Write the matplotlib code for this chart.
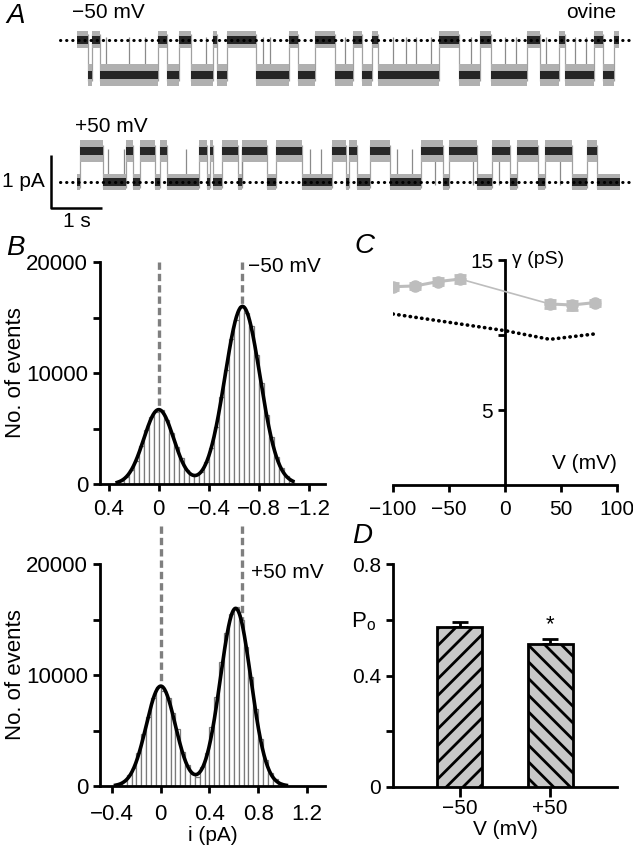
import matplotlib
matplotlib.use("Agg")
import matplotlib.pyplot as plt
import numpy as np

plt.rcParams['font.family'] = ['Liberation Sans', 'DejaVu Sans']
plt.rcParams['font.size'] = 15
plt.rcParams['axes.linewidth'] = 2.0
plt.rcParams['hatch.linewidth'] = 2.0
plt.rcParams['xtick.major.width'] = 2.0
plt.rcParams['ytick.major.width'] = 2.0
plt.rcParams['xtick.major.size'] = 5
plt.rcParams['ytick.major.size'] = 5

MINUS = '\u2212'

# ---- A: single channel records, dwell boundaries (s); state alternates closed/open
top_edges = [0, 0.22, 0.31, 0.47, 1.59, 1.78, 2.0, 2.25, 2.67, 2.76, 2.96, 3.51, 4.16,
             4.35, 4.67, 5.06, 5.43, 5.59, 5.80, 5.92, 7.10, 7.49, 7.92, 8.12, 8.84,
             9.08, 9.45, 9.57, 10.14, 10.33, 10.53, 10.63]
top_spikes = [0.57, 1.02, 1.35, 2.53, 3.65, 3.80, 5.27, 6.20, 6.45, 6.65, 6.94, 7.73,
              8.41, 8.61, 9.20, 9.78, 9.98]
top_open_amp = -0.66   # pA at -50 mV
bot_edges = [0, 0.06, 0.51, 0.98, 1.10, 1.24, 1.53, 1.63, 1.78, 2.41, 2.55, 2.61, 2.67,
             2.86, 3.16, 3.25, 3.73, 3.92, 4.43, 5.00, 5.29, 5.35, 5.49, 5.75, 6.14,
             6.76, 7.18, 7.31, 7.86, 8.14, 8.49, 8.63, 9.04, 9.18, 9.71, 10.0, 10.2, 10.65]
bot_spikes = [0.61, 0.94, 2.14, 3.24, 4.57, 4.80, 6.29, 6.57, 7.02, 7.78, 8.29, 9.47]
bot_open_amp = 0.58    # pA at +50 mV
top_offset = 2.68      # vertical offset of the -50 mV record

# ---- B: amplitude histograms (bin width 0.04 pA)
bin_w = 0.04
top_first_bin = 0.30
top_counts = [300, 600, 1300, 2100, 3400, 4900, 6000, 6500, 6700, 5800, 4600, 3300,
              2300, 1300, 900, 800, 1100, 2000, 3200, 5100, 7800, 10300, 13100, 14800,
              16000, 15400, 14200, 11600, 9100, 6200, 4200, 2400, 1400, 700, 300]
top_fit_amp = [6700, 16000]
top_fit_mu = [0.0, -0.67]
top_fit_sd = [0.12, 0.14]
top_levels = [0.0, -0.665]

bot_first_bin = -0.34
bot_counts = [200, 450, 950, 1600, 3000, 4700, 6200, 7900, 8900, 8600, 7900, 6600,
              5100, 3100, 1900, 1100, 800, 1700, 3000, 5300, 8000, 11200, 13800, 15500,
              16100, 15000, 12500, 9800, 6900, 4200, 2300, 1200, 600, 250, 100]
bot_fit_amp = [9000, 16000]
bot_fit_mu = [0.0, 0.615]
bot_fit_sd = [0.12, 0.125]
bot_levels = [0.0, 0.665]

# ---- C: conductance vs voltage
c_v = [-100, -80, -60, -40, 40, 60, 80]
c_g = [13.22, 13.27, 13.56, 13.73, 12.07, 12.0, 12.16]
c_err = [0.25, 0.2, 0.25, 0.25, 0.25, 0.3, 0.2]
c_ref_v = [-100, 0, 40, 80]
c_ref_g = [11.4, 10.29, 9.71, 10.07]

# ---- D: open probability
d_labels = [MINUS + '50', '+50']
d_po = [0.575, 0.514]
d_err = [0.018, 0.018]
d_hatch = ['//', '\\\\']

W, H = 633, 850
fig = plt.figure(figsize=(W / 100, H / 100), dpi=100)


def box(left, top, right, bottom):
    return [left / W, 1 - bottom / H, (right - left) / W, (bottom - top) / H]


def ftext(px, py, s, **kw):
    fig.text(px / W, 1 - py / H, s, **kw)


def gauss_sum(x, amps, mus, sds):
    y = np.zeros_like(x)
    for a, m, s in zip(amps, mus, sds):
        y += a * np.exp(-(x - m) ** 2 / (2 * s ** 2))
    return y


def style_axes(ax):
    for side in ['top', 'right']:
        ax.spines[side].set_visible(False)
    ax.tick_params(direction='out')


# ======== A
ax_a = fig.add_axes([0, 1 - 230 / H, 1, 230 / H])
ax_a.set_xlim(-1.5, 10.91)
ax_a.set_ylim(-0.906, 3.434)
ax_a.axis('off')

for edges, spikes, amp, off in [(top_edges, top_spikes, top_open_amp, top_offset),
                                (bot_edges, bot_spikes, bot_open_amp, 0.0)]:
    state = np.arange(len(edges) - 1) % 2
    vals = off + amp * state
    lo, hi = min(off, off + amp), max(off, off + amp)
    # noisy band drawn as grey envelope with a dark core
    outer = np.where(state == 1, 0.21, 0.16)
    core = np.where(state == 1, 0.08, 0.07)
    ax_a.vlines(edges[1:-1], lo - 0.12, hi + 0.12, color='#a0a0a0', lw=0.9, zorder=2)
    ax_a.vlines(spikes, lo - 0.05, hi + 0.05, color='#8a8a8a', lw=0.9, zorder=2)
    ax_a.stairs(vals + outer, edges, baseline=vals - outer, fill=True, color='#b0b0b0',
                lw=0, zorder=2)
    ax_a.stairs(vals + core, edges, baseline=vals - core, fill=True, color='#262626',
                lw=0, zorder=3)
    ax_a.plot([-0.32, 10.88], [off, off], color='black', lw=2.2,
              dashes=(0.1, 1.9), dash_capstyle='round', zorder=4)

# scale bar 1 pA / 1 s
ax_a.plot([-0.5, -0.5, 0.5], [0.51, -0.49, -0.49], color='black', lw=1.8,
          solid_capstyle='butt')
ax_a.text(-0.62, 0.0, '1 pA', ha='right', va='center', fontsize=15)
ax_a.text(0.0, -0.74, '1 s', ha='center', va='center', fontsize=15)

ftext(72, 13, MINUS + '50 mV', ha='left', va='center', fontsize=15)
ftext(616, 13, 'ovine', ha='right', va='center', fontsize=15)
ftext(75, 127, '+50 mV', ha='left', va='center', fontsize=15)

# ======== B
hist_specs = [
    (box(100, 262, 325, 484), top_first_bin, -bin_w, top_counts, top_fit_amp, top_fit_mu,
     top_fit_sd, top_levels, (0.47, -1.33), [0.4, 0, -0.4, -0.8, -1.2],
     ['0.4', '0', MINUS + '0.4', MINUS + '0.8', MINUS + '1.2'], 20000, 6),
    (box(100, 564, 325, 786), bot_first_bin, bin_w, bot_counts, bot_fit_amp, bot_fit_mu,
     bot_fit_sd, bot_levels, (-0.50, 1.35), [-0.4, 0, 0.4, 0.8, 1.2],
     [MINUS + '0.4', '0', '0.4', '0.8', '1.2'], 23400, 8),
]
hist_axes = []
for (rect, first, step, counts, amps, mus, sds, levels, xl, xt, xtl, dash_top,
     xpad) in hist_specs:
    ax = fig.add_axes(rect)
    centers = first + step * np.arange(len(counts))
    ax.bar(centers, counts, width=bin_w, color='white', edgecolor='#7a7a7a', linewidth=0.9,
           zorder=2)
    xs = np.linspace(centers[0] - step * 0.8, centers[-1] + step * 0.3, 400)
    ax.plot(xs, gauss_sum(xs, amps, mus, sds), color='black', lw=2.6, zorder=4)
    for lv in levels:
        peak = max(c for x, c in zip(centers, counts) if abs(x - lv) < 0.03)
        ax.plot([lv, lv], [dash_top, peak], color='#7f7f7f', lw=2.4,
                dashes=(2.2, 1.2), clip_on=False, zorder=3)
    ax.set_xlim(*xl)
    ax.set_ylim(0, 20000)
    ax.set_xticks(xt)
    ax.set_xticklabels(xtl)
    ax.set_yticks([0, 5000, 10000, 15000, 20000])
    ax.set_yticklabels(['0', '', '10000', '', '20000'])
    ax.set_ylabel('No. of events', fontsize=16)
    ax.yaxis.set_label_coords(-0.33, 0.5)
    style_axes(ax)
    ax.tick_params(labelsize=16)
    ax.tick_params(axis='x', pad=xpad)
    hist_axes.append(ax)

hist_axes[1].set_xlabel('i (pA)', fontsize=15, labelpad=1)
ftext(248, 266, MINUS + '50 mV', ha='left', va='center', fontsize=15)
ftext(251, 573, '+50 mV', ha='left', va='center', fontsize=15)

# ======== C
ax_c = fig.add_axes(box(393, 260, 617, 485))
ax_c.plot(c_ref_v, c_ref_g, color='black', lw=2.6, dashes=(0.1, 1.5),
          dash_capstyle='round', zorder=2)
ax_c.plot([c_v[3], c_v[4]], [c_g[3], c_g[4]], color='#bdbdbd', lw=1.2, zorder=3)
ax_c.plot(c_v[:4], c_g[:4], color='#bdbdbd', lw=2.2, zorder=3)
ax_c.plot(c_v[4:], c_g[4:], color='#bdbdbd', lw=2.2, zorder=3)
ax_c.errorbar(c_v, c_g, yerr=c_err, color='#bdbdbd', ls='none', marker='o', ms=8,
              capsize=4, capthick=2, elinewidth=2, zorder=4)
ax_c.set_xlim(-100, 100)
ax_c.set_ylim(0, 15)
ax_c.spines['left'].set_position(('data', 0))
ax_c.spines['bottom'].set_position(('data', 0))
style_axes(ax_c)
ax_c.set_xticks([-100, -50, 0, 50, 100])
ax_c.set_xticklabels([MINUS + '100', MINUS + '50', '0', '50', '100'])
ax_c.set_yticks([5, 10, 15])
ax_c.set_yticklabels(['5', '', '15'])
ax_c.tick_params(labelsize=15)
ax_c.tick_params(axis='x', pad=6)
ax_c.text(6, 15, '\u03b3 (pS)', ha='left', va='center', fontsize=14)
ax_c.text(100, 1.45, 'V (mV)', ha='right', va='center', fontsize=15)

# ======== D
ax_d = fig.add_axes(box(393, 564, 617, 787))
xpos = np.arange(1, len(d_po) + 1)
bars = ax_d.bar(xpos, d_po, width=0.5, color='#c8c8c8', edgecolor='black', linewidth=2,
                zorder=3)
for b, h in zip(bars, d_hatch):
    b.set_hatch(h)
ax_d.errorbar(xpos, d_po, yerr=[[0] * len(d_err), d_err], fmt='none', ecolor='black',
              elinewidth=2, capsize=6, capthick=2, zorder=2)
ax_d.text(xpos[1], d_po[1] + d_err[1] + 0.05, '*', ha='center', va='center', fontsize=16)
ax_d.set_xlim(0.256, 2.744)
ax_d.set_ylim(0, 0.8)
ax_d.set_xticks(xpos)
ax_d.set_xticklabels(d_labels)
ax_d.set_yticks([0, 0.2, 0.4, 0.6, 0.8])
ax_d.set_yticklabels(['0', '', '0.4', '', '0.8'])
style_axes(ax_d)
ax_d.tick_params(labelsize=15)
ax_d.tick_params(axis='x', length=7, pad=2)
ax_d.set_xlabel('V (mV)', fontsize=15, labelpad=1)
ax_d.text(-0.13, 0.74, 'P$_\\mathregular{o}$', transform=ax_d.transAxes, ha='center',
          va='center', fontsize=16)

# panel letters
for lab, px, py in [('A', 16, 16), ('B', 15, 248), ('C', 364, 246), ('D', 362, 536)]:
    ftext(px, py, lab, ha='center', va='center', fontsize=20, style='italic')

fig.savefig('out.png', dpi=100)
